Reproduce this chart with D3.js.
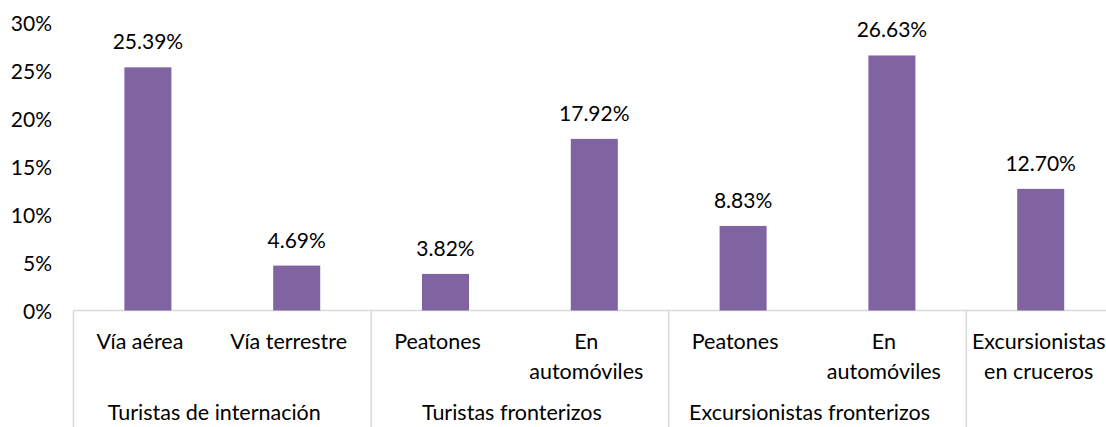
<!DOCTYPE html>
<html>
<head>
<meta charset="utf-8">
<script src="https://cdn.jsdelivr.net/npm/d3@7"></script>
<style>
  body { margin: 0; background: #fff; }
  text { font-family: Lato, "Open Sans", sans-serif; fill: #000; }
</style>
</head>
<body>
<div id="chart"></div>
<script>
// data
var categories = ["Vía aérea", "Vía terrestre", "Peatones", "En automóviles", "Peatones", "En automóviles", "Excursionistas en cruceros"]
var categoryLines = [["Vía aérea"], ["Vía terrestre"], ["Peatones"], ["En", "automóviles"], ["Peatones"], ["En", "automóviles"], ["Excursionistas", "en cruceros"]]
var values = [25.39, 4.69, 3.82, 17.92, 8.83, 26.63, 12.70]
var groups = ["Turistas de internación", "Turistas fronterizos", "Excursionistas fronterizos", ""]
var groupSizes = [2, 2, 2, 1]
var yTicks = [0, 5, 10, 15, 20, 25, 30]

var width = 1106, height = 427
var numSize = 21, labelSize = 21.5
var left = 73.5, step = 148.8
var baseY = 310.5, topY = 23.2

var svg = d3.select("#chart").append("svg")
	.attr("width", width)
	.attr("height", height)

var idx = d3.range(categories.length)

var x = d3.scaleBand()
	.domain(idx)
	.range([left, left + step * categories.length])
	.padding(0)

var y = d3.scaleLinear()
	.domain([0, 30])
	.range([baseY, topY])

// y labels
svg.append("g").selectAll("text")
	.data(yTicks)
	.enter().append("text")
	.attr("x", 52)
	.attr("y", d => y(d) + 8)
	.attr("text-anchor", "end")
	.attr("font-size", numSize)
	.text(d => d + "%")

// axis line
svg.append("line")
	.attr("x1", left).attr("x2", width)
	.attr("y1", baseY).attr("y2", baseY)
	.attr("stroke", "#d9d9d9").attr("stroke-width", 1.5)

// bars
var barW = x.bandwidth() * 0.316
svg.append("g").selectAll("rect")
	.data(values)
	.enter().append("rect")
	.attr("x", (d, i) => x(i) + (x.bandwidth() - barW) / 2)
	.attr("y", d => y(d))
	.attr("width", barW)
	.attr("height", d => y(0) - y(d))
	.attr("fill", "#8064A2")

// value labels
svg.append("g").selectAll("text")
	.data(values)
	.enter().append("text")
	.attr("x", (d, i) => x(i) + x.bandwidth() / 2)
	.attr("y", d => y(d) - 18)
	.attr("text-anchor", "middle")
	.attr("font-size", numSize)
	.text(d => d.toFixed(2) + "%")

// group separators
var bounds = [0]
groupSizes.forEach(n => bounds.push(bounds[bounds.length - 1] + n))

svg.append("g").selectAll("line")
	.data(bounds.slice(0, -1))
	.enter().append("line")
	.attr("x1", d => x(d)).attr("x2", d => x(d))
	.attr("y1", baseY).attr("y2", height)
	.attr("stroke", "#d9d9d9").attr("stroke-width", 1.5)

// category labels
var catG = svg.append("g").selectAll("text")
	.data(categoryLines)
	.enter().append("text")
	.attr("text-anchor", "middle")
	.attr("font-size", labelSize)

catG.selectAll("tspan")
	.data((d, i) => d.map(t => ({t: t, i: i})))
	.enter().append("tspan")
	.attr("x", d => x(d.i) + x.bandwidth() / 2 - (d.i == 6 ? 2 : 8))
	.attr("y", (d, j) => 349 + j * 30)
	.text(d => d.t)

// group labels
svg.append("g").selectAll("text")
	.data(groups)
	.enter().append("text")
	.attr("x", (d, i) => (x(bounds[i]) + x(bounds[i + 1] - 1) + x.bandwidth()) / 2 - 8)
	.attr("y", 420)
	.attr("text-anchor", "middle")
	.attr("font-size", labelSize)
	.text(d => d)
</script>
</body>
</html>
